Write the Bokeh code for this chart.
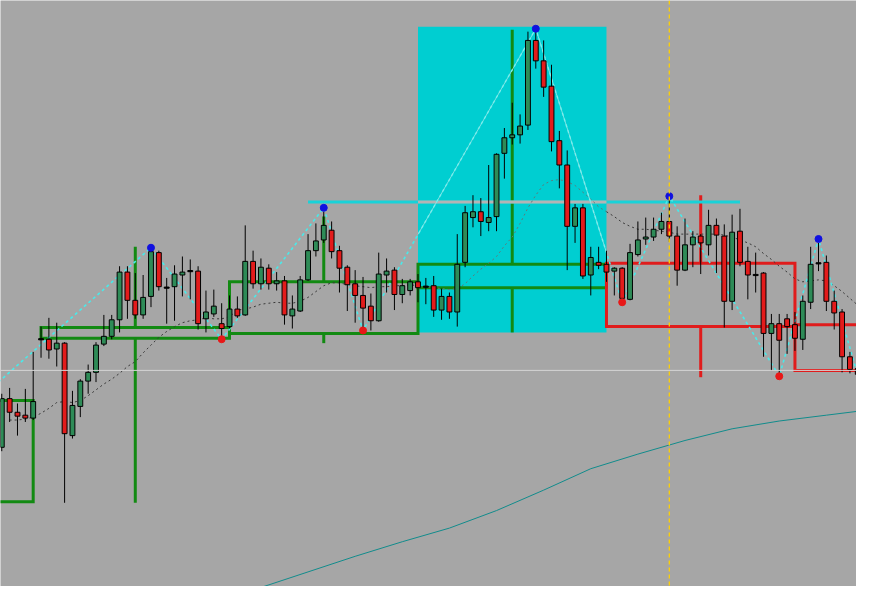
from bokeh.plotting import figure
from bokeh.models import Range1d, Span, ColumnDataSource
from bokeh.embed import file_html
from bokeh.resources import INLINE

# ---------------- data (price levels, screen-style scale: smaller = higher) ----
idx = list(range(110))
opens = [459, 409, 423, 426, 429, 348, 348, 358, 352, 447,
         417, 391, 382, 353, 345, 328, 279, 308, 323, 304,
         259, 295, 294, 282, 278, 278, 327, 322, 332, 335,
         317, 323, 268, 291, 275, 291, 288, 324, 319, 287,
         257, 246, 236, 257, 274, 291, 303, 314, 329, 282,
         277, 302, 298, 289, 294, 293, 318, 304, 320, 269,
         223, 217, 228, 222, 157, 141, 138, 128, 41, 62,
         88, 144, 169, 232, 213, 282, 269, 271, 278, 275,
         307, 261, 245, 243, 235, 227, 242, 277, 251, 242,
         251, 231, 242, 309, 237, 268, 282, 280, 342, 332,
         327, 333, 348, 310, 270, 269, 309, 320, 366, 378]
highs = [404, 398, 414, 399, 361, 335, 326, 331, 351, 401,
         389, 374, 351, 323, 323, 273, 273, 280, 282, 256,
         257, 285, 272, 263, 266, 273, 298, 297, 311, 303,
         304, 231, 257, 265, 271, 279, 283, 303, 283, 240,
         229, 217, 227, 252, 272, 277, 284, 301, 259, 265,
         274, 286, 286, 281, 285, 283, 296, 300, 240, 211,
         200, 203, 169, 157, 131, 105, 117, 32, 32, 41,
         66, 134, 154, 209, 209, 253, 253, 257, 274, 274,
         250, 227, 223, 223, 218, 202, 232, 224, 237, 240,
         215, 224, 230, 220, 214, 253, 259, 279, 322, 322,
         322, 320, 303, 253, 249, 262, 298, 317, 361, 375]
lows = [463, 433, 447, 433, 431, 367, 368, 376, 516, 450,
        428, 404, 392, 355, 348, 341, 327, 327, 327, 315,
        298, 332, 329, 304, 307, 338, 341, 325, 345, 337,
        326, 324, 296, 297, 297, 298, 333, 337, 320, 288,
        263, 249, 265, 300, 319, 331, 337, 339, 330, 300,
        318, 311, 303, 310, 312, 325, 328, 327, 335, 274,
        233, 242, 237, 237, 183, 148, 147, 133, 70, 99,
        155, 193, 277, 249, 286, 303, 276, 289, 303, 309,
        308, 263, 251, 247, 240, 248, 293, 278, 274, 281,
        262, 280, 336, 318, 273, 307, 300, 366, 380, 383,
        363, 360, 359, 317, 278, 319, 338, 382, 383, 386]
closes = [409, 423, 427, 429, 412, 348, 359, 352, 445, 416,
          391, 382, 354, 345, 328, 279, 308, 323, 305, 258,
          294, 295, 281, 279, 278, 332, 320, 314, 337, 317,
          324, 268, 291, 274, 291, 288, 323, 317, 287, 257,
          247, 231, 258, 275, 292, 303, 316, 329, 281, 278,
          302, 293, 289, 295, 294, 318, 304, 320, 271, 218,
          217, 227, 223, 158, 141, 138, 129, 41, 62, 89,
          145, 169, 232, 213, 283, 264, 272, 279, 275, 306,
          259, 246, 243, 235, 227, 242, 277, 251, 243, 249,
          231, 241, 309, 238, 269, 282, 282, 342, 332, 349,
          335, 347, 309, 271, 270, 309, 321, 366, 379, 384]

# short moving average (dashed), from candle 1
ma_x = list(range(1, 110))
ma_y = [431, 431, 430, 428, 424, 419, 413, 412, 413, 411,
        406, 400, 394, 389, 383, 376, 371, 362, 354, 346,
        340, 335, 331, 329, 328, 326, 327, 327, 325, 318,
        317, 315, 312, 311, 310, 311, 311, 309, 305, 299,
        293, 290, 290, 292, 293, 294, 295, 294, 294, 293,
        293, 292, 293, 294, 295, 296, 297, 296, 291, 283,
        276, 270, 263, 252, 243, 229, 213, 200, 189, 185,
        184, 186, 190, 197, 204, 212, 217, 222, 228, 232,
        235, 235, 236, 237, 238, 240, 240, 240, 240, 240,
        240, 241, 243, 246, 249, 253, 260, 266, 273, 279,
        286, 289, 288, 287, 288, 293, 299, 306, 313]

# long moving average (teal), sampled
lma_x = [33, 39, 45, 51, 57, 63, 69, 75, 81, 87, 93, 99, 105, 109]
lma_y = [603, 587, 571, 556, 542, 524, 503, 481, 466, 452, 440, 432, 426, 422]

# zigzag vertices and swing markers
zz_x = [-1, 19, 28, 41, 46, 68, 79, 85, 99, 104, 109]
zz_y = [396, 254, 348, 213, 339, 29, 310, 201, 386, 245, 385]
peak_x = [19, 41, 68, 85, 104]
peak_y = [254, 213, 29, 201, 245]
trough_x = [28, 46, 79, 99]
trough_y = [348, 339, 310, 386]

# period boxes
box_left = [-20, 5, 29, 53, 77, 101]
box_right = [4, 29, 53, 77, 101, 125]
box_top = [411, 336, 289, 271, 270, 333]
box_bottom = [515, 347, 342, 295, 335, 380]
box_color = ["#128a12", "#128a12", "#128a12", "#128a12", "#e01c1c", "#e01c1c"]
rng_box = [1, 2, 3, 4]
rng_high = [253, 222, 30, 200]
rng_low = [516, 352, 341, 387]

# highlighted range
hl_left, hl_right, hl_top, hl_bottom = 53, 77, 27, 341
level_y, level_x0, level_x1 = 207, 39, 94
bid_level = 380
marker_bar = 85

BG = "#a6a6a6"
GREEN_BODY = "#2e8b57"
RED_BODY = "#e31b1b"

p = figure(width=856, height=586, output_backend="svg", toolbar_location=None,
           x_range=Range1d(-0.1625, 108.8375), y_range=Range1d(602, 0),
           x_axis_location=None, y_axis_location=None,
           min_border=0, min_border_left=0, min_border_right=0,
           min_border_top=0, min_border_bottom=0)
p.grid.visible = False
p.outline_line_color = None
p.background_fill_color = BG
p.border_fill_color = BG

# highlighted rectangle
p.quad(left=[hl_left], right=[hl_right], top=[hl_top], bottom=[hl_bottom],
       fill_color="#00ced1", line_color=None)

# bid line
p.add_layout(Span(location=bid_level, dimension="width", line_color="#d4d4d4", line_width=1))

# long MA
p.line(lma_x, lma_y, line_color="#118c8c", line_width=1)

# boxes
p.quad(left=box_left, right=box_right, top=box_top, bottom=box_bottom,
       fill_color=None, line_color=box_color, line_width=3, line_join="miter")
mids = [(box_left[b] + box_right[b]) / 2 for b in rng_box]
cols = [box_color[b] for b in rng_box]
p.segment(x0=mids, x1=mids, y0=rng_high, y1=[box_top[b] for b in rng_box],
          line_color=cols, line_width=3)
p.segment(x0=mids, x1=mids, y0=[box_bottom[b] for b in rng_box], y1=rng_low,
          line_color=cols, line_width=3)

# horizontal level
p.segment(x0=[level_x0], x1=[level_x1], y0=[level_y], y1=[level_y],
          line_color="#18d2d8", line_width=3)
p.segment(x0=[max(level_x0, hl_left)], x1=[min(level_x1, hl_right)], y0=[level_y], y1=[level_y],
          line_color="#b4b4b4", line_width=3)

# marker vertical
p.add_layout(Span(location=marker_bar, dimension="height", line_color="#ffd000",
                  line_width=1.3, line_dash="4 3"))

# short MA, split at the highlighted rectangle
def split_in(xs, ys, lo, hi):
    inside = [(x, y) for x, y in zip(xs, ys) if lo <= x <= hi]
    return [a for a, _ in inside], [b for _, b in inside]

left_x = [x for x in ma_x if x <= hl_left]
p.line(left_x, ma_y[:len(left_x)], line_color="#3a3a3a", line_width=1, line_dash="2 3")
ix, iy = split_in(ma_x, ma_y, hl_left, hl_right)
p.line(ix, iy, line_color="#5e7a7a", line_width=1, line_dash="2 3")
rx = [x for x in ma_x if x >= hl_right]
p.line(rx, ma_y[len(ma_x) - len(rx):], line_color="#3a3a3a", line_width=1, line_dash="2 3")

# zigzag
p.line(zz_x, zz_y, line_color="#48eaea", line_width=1.6, line_dash="3 3")
cx0, cx1, cy0, cy1 = [], [], [], []
for k in range(len(zz_x) - 1):
    xa, ya, xb, yb = zz_x[k], zz_y[k], zz_x[k + 1], zz_y[k + 1]
    a, b = max(xa, hl_left), min(xb, hl_right)
    if a < b:
        fy = lambda x: ya + (yb - ya) * (x - xa) / (xb - xa)
        cx0.append(a); cx1.append(b); cy0.append(fy(a)); cy1.append(fy(b))
p.segment(x0=cx0, x1=cx1, y0=cy0, y1=cy1, line_color="#9ee8e8", line_width=0.8)

# candles
p.segment(x0=idx, x1=idx, y0=highs, y1=lows, line_color="black", line_width=1)
bull = dict(x=[], t=[], b=[])
bear = dict(x=[], t=[], b=[])
doji = dict(x=[], t=[], b=[])
for i, o, c in zip(idx, opens, closes):
    if c < o:
        bull["x"].append(i); bull["t"].append(c); bull["b"].append(o)
    elif c > o:
        bear["x"].append(i); bear["t"].append(o); bear["b"].append(c)
    else:
        doji["x"].append(i); doji["t"].append(o - 0.6); doji["b"].append(o + 0.6)
W = 0.62
p.vbar(x="x", top="t", bottom="b", width=W, source=ColumnDataSource(bull),
       fill_color=GREEN_BODY, line_color="black", line_width=1)
p.vbar(x="x", top="t", bottom="b", width=W, source=ColumnDataSource(bear),
       fill_color=RED_BODY, line_color="black", line_width=1)
p.vbar(x="x", top="t", bottom="b", width=W, source=ColumnDataSource(doji),
       fill_color="black", line_color="black", line_width=1)

# swing markers
p.scatter(peak_x, peak_y, size=7, fill_color="#1010e0", line_color="#1010e0")
p.scatter(trough_x, trough_y, size=7, fill_color="#e81818", line_color="#e81818")

open("out.html", "w").write(file_html(p, INLINE))
